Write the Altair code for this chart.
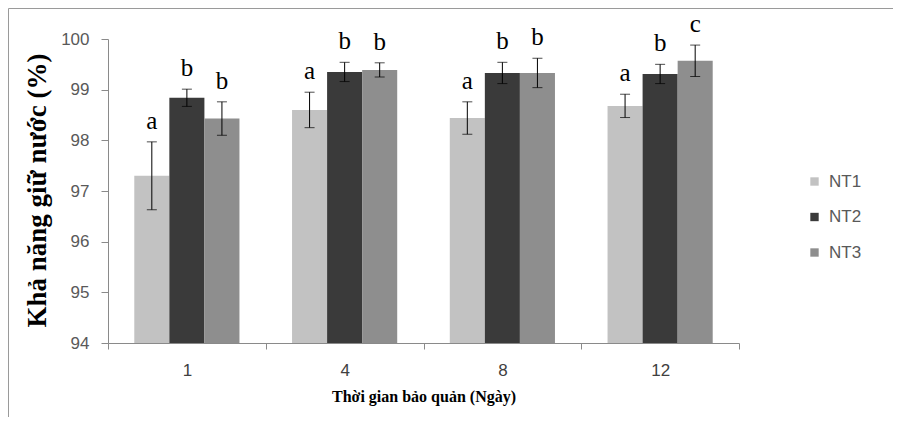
import altair as alt
import pandas as pd

days = ["1", "4", "8", "12"]
groups = ["NT1", "NT2", "NT3"]
nt1 = [97.30, 98.60, 98.44, 98.68]
nt2 = [98.84, 99.35, 99.33, 99.31]
nt3 = [98.43, 99.39, 99.33, 99.57]
err1 = [0.67, 0.35, 0.32, 0.23]
err2 = [0.17, 0.19, 0.21, 0.19]
err3 = [0.33, 0.14, 0.29, 0.31]
let1 = ["a", "a", "a", "a"]
let2 = ["b", "b", "b", "b"]
let3 = ["b", "b", "b", "c"]
colors = ["#c2c2c2", "#3a3a3a", "#8e8e8e"]

rows = []
for vals, errs, lets, g in [(nt1, err1, let1, "NT1"), (nt2, err2, let2, "NT2"), (nt3, err3, let3, "NT3")]:
    for d, v, e, l in zip(days, vals, errs, lets):
        rows.append({"day": d, "group": g, "value": v, "lo": v - e, "hi": v + e, "letter": l})
df = pd.DataFrame(rows)

xenc = alt.X("day:N", sort=days, scale=alt.Scale(paddingInner=0, paddingOuter=0),
             axis=alt.Axis(title="Thời gian bảo quản (Ngày)", labelAngle=0, tickBand="extent",
                           grid=False, tickSize=6, labelPadding=13, labelFont="Liberation Sans",
                           labelFontSize=17, labelColor="#404040", domainColor="#8a8a8a",
                           tickColor="#8a8a8a", titleFont="Liberation Serif", titleFontSize=16,
                           titleFontWeight="bold", titleColor="#000000", titleY=58,
                           titleBaseline="alphabetic"))
xoff = alt.XOffset("group:N", sort=groups, scale=alt.Scale(paddingOuter=0.75, paddingInner=0))
yscale = alt.Scale(domain=[94, 100], nice=False, zero=False)

base = alt.Chart(df).encode(x=xenc, xOffset=xoff)

bars = base.mark_bar().encode(
    y=alt.Y("value:Q", scale=yscale,
            axis=alt.Axis(title="Khả năng giữ nước (%)", values=[94, 95, 96, 97, 98, 99, 100],
                          grid=False, tickSize=7, labelPadding=12, labelFont="Liberation Sans",
                          labelFontSize=17, labelColor="#595959", domainColor="#8a8a8a",
                          tickColor="#8a8a8a", titleFont="Liberation Serif", titleFontSize=27,
                          titleFontWeight="bold", titleColor="#000000", titleX=-63,
                          titleY=151, titleAngle=270, titleBaseline="alphabetic", titleAlign="center")),
    y2=alt.datum(94),
    color=alt.Color("group:N", sort=groups, scale=alt.Scale(domain=groups, range=colors),
                    legend=alt.Legend(title=None, orient="none", legendX=698, legendY=134,
                                      symbolType="square", symbolSize=70, symbolStrokeWidth=0,
                                      labelFont="Liberation Sans", labelFontSize=17,
                                      labelColor="#595959", rowPadding=17.5, labelOffset=6)),
)

rules = base.mark_rule(color="black", strokeWidth=1).encode(y=alt.Y("lo:Q", scale=yscale), y2="hi:Q")
cap_hi = base.mark_tick(color="black", orient="horizontal", size=10, thickness=1).encode(y=alt.Y("hi:Q", scale=yscale))
cap_lo = base.mark_tick(color="black", orient="horizontal", size=10, thickness=1).encode(y=alt.Y("lo:Q", scale=yscale))
texts = base.mark_text(baseline="alphabetic", dy=-13, font="Liberation Serif", fontSize=25,
                       color="black").encode(y=alt.Y("hi:Q", scale=yscale), text="letter:N")

one = pd.DataFrame({"k": [0]})
frame_left = alt.Chart(one).mark_rule(stroke="#9a9a9a", strokeWidth=1).encode(
    x=alt.value(-99.5), y=alt.value(-30.5), y2=alt.value(420))
frame_top = alt.Chart(one).mark_rule(stroke="#9a9a9a", strokeWidth=1).encode(
    x=alt.value(-99.5), x2=alt.value(900), y=alt.value(-30.5))

chart = alt.layer(frame_left, frame_top, bars, rules, cap_hi, cap_lo, texts).properties(
    width=631, height=304,
    padding={"left": 100, "top": 31, "right": 154, "bottom": 74},
    autosize=alt.AutoSizeParams(type="none"),
).configure_view(stroke=None)

chart.save("out.html", embed_options={"renderer": "svg", "actions": False})
